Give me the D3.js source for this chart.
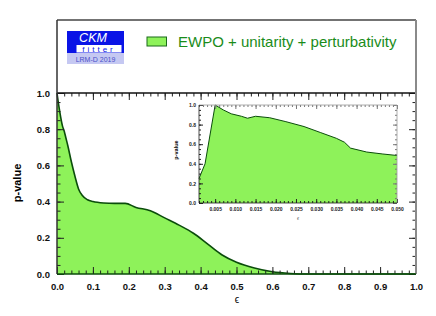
<!DOCTYPE html>
<html lang="en">
<head>
<meta charset="UTF-8">
<title>chart</title>
<style>
  body { margin: 0; background: #fff; }
  svg { display: block; font-family: "Liberation Sans", Arial, Helvetica, sans-serif; }
</style>
</head>
<body>
<script src="https://cdn.jsdelivr.net/npm/d3@7/dist/d3.min.js"></script>
<script>
// main curve: p-value against epsilon
const mainEps = [0, 0.005, 0.01, 0.015, 0.02, 0.025, 0.03, 0.04, 0.05, 0.06, 0.07, 0.085, 0.1, 0.13, 0.16, 0.19, 0.22, 0.26, 0.3, 0.34, 0.38, 0.42, 0.46, 0.5, 0.55, 0.6, 0.65, 0.7, 0.8, 0.9, 1.0];
const mainP = [1.0, 0.93, 0.87, 0.82, 0.79, 0.75, 0.71, 0.62, 0.54, 0.47, 0.435, 0.41, 0.40, 0.392, 0.39, 0.39, 0.368, 0.35, 0.31, 0.27, 0.225, 0.165, 0.105, 0.065, 0.033, 0.012, 0.003, 0, 0, 0, 0];

// inset: small epsilon region
const insetEps = [0.001, 0.0025, 0.005, 0.007, 0.009, 0.0115, 0.013, 0.015, 0.0185, 0.0225, 0.027, 0.031, 0.035, 0.037, 0.0385, 0.0425, 0.0465, 0.05];
const insetP = [0.25, 0.40, 1.0, 0.95, 0.91, 0.885, 0.865, 0.885, 0.87, 0.83, 0.78, 0.72, 0.66, 0.62, 0.56, 0.52, 0.50, 0.485];

// tick labels
const mainXTicks = [0, 0.1, 0.2, 0.3, 0.4, 0.5, 0.6, 0.7, 0.8, 0.9, 1.0];
const mainYTicks = [0, 0.2, 0.4, 0.6, 0.8, 1.0];
const insetXTicks = [0.005, 0.01, 0.015, 0.02, 0.025, 0.03, 0.035, 0.04, 0.045, 0.05];
const insetYTicks = [0, 0.2, 0.4, 0.6, 0.8, 1.0];

const legendLabel = 'EWPO + unitarity + perturbativity';

const width = 436, height = 316;
const fillCol = '#8ef25a', lineCol = '#0b4d0b';

const svg = d3.select('body').append('svg')
  .attr('width', width)
  .attr('height', height);

svg.append('rect').attr('width', width).attr('height', height).attr('fill', '#fff');

const x = d3.scaleLinear().domain([0, 1]).range([57, 416]);
const y = d3.scaleLinear().domain([0, 1]).range([274, 93]);

const mainData = mainEps.map((e, i) => [e, mainP[i]]);

const area = d3.area()
  .x(d => x(d[0]))
  .y0(y(0))
  .y1(d => y(d[1]))
  .curve(d3.curveMonotoneX);
const line = d3.line()
  .x(d => x(d[0]))
  .y(d => y(d[1]))
  .curve(d3.curveMonotoneX);

svg.append('path').datum(mainData).attr('d', area).attr('fill', fillCol);
svg.append('path').datum(mainData).attr('d', line)
  .attr('fill', 'none').attr('stroke', lineCol).attr('stroke-width', 1.6);

// helper to draw ticks with an axis generator, no domain line
function drawAxis(axis, tx, ty, col) {
  const g = svg.append('g').attr('transform', `translate(${tx},${ty})`).call(axis);
  g.select('.domain').remove();
  g.selectAll('line').attr('stroke', col || '#222');
  return g;
}

const minorX = d3.range(0, 1.001, 0.02);
const minorY = d3.range(0, 1.001, 0.05);

// bottom
drawAxis(d3.axisBottom(x).tickValues(minorX).tickSize(-3.5).tickFormat(''), 0, 274);
const bx = drawAxis(d3.axisBottom(x).tickValues(mainXTicks).tickSize(-7).tickPadding(9).tickFormat(d3.format('.1f')), 0, 274);
bx.selectAll('text').attr('font-size', 9.5).attr('font-weight', 'bold').attr('fill', '#111').attr('font-family', null);
// top
drawAxis(d3.axisTop(x).tickValues(minorX).tickSize(-3.5).tickFormat(''), 0, 93);
drawAxis(d3.axisTop(x).tickValues(mainXTicks).tickSize(-7).tickFormat(''), 0, 93);
// left
drawAxis(d3.axisLeft(y).tickValues(minorY).tickSize(-3.5).tickFormat(''), 57, 0);
const ly = drawAxis(d3.axisLeft(y).tickValues(mainYTicks).tickSize(-7).tickPadding(7).tickFormat(d3.format('.1f')), 57, 0);
ly.selectAll('text').attr('font-size', 9.5).attr('font-weight', 'bold').attr('fill', '#111').attr('font-family', null);
// right
drawAxis(d3.axisRight(y).tickValues(minorY).tickSize(-3.5).tickFormat(''), 416, 0);
drawAxis(d3.axisRight(y).tickValues(mainYTicks).tickSize(-7).tickFormat(''), 416, 0);

// frame
svg.append('line').attr('x1', 57).attr('x2', 416).attr('y1', 20).attr('y2', 20).attr('stroke', '#444').attr('stroke-width', 1.5);
svg.append('line').attr('x1', 57).attr('x2', 416).attr('y1', 93).attr('y2', 93).attr('stroke', '#111').attr('stroke-width', 1.5);
svg.append('line').attr('x1', 57).attr('x2', 57).attr('y1', 20).attr('y2', 274).attr('stroke', '#333').attr('stroke-width', 1.5);
svg.append('line').attr('x1', 416).attr('x2', 416).attr('y1', 20).attr('y2', 274).attr('stroke', '#8a8a8a').attr('stroke-width', 2);
svg.append('line').attr('x1', 57).attr('x2', 416).attr('y1', 274).attr('y2', 274).attr('stroke', lineCol).attr('stroke-width', 1.6);

// axis titles
svg.append('text').attr('transform', 'translate(21,183) rotate(-90)')
  .attr('text-anchor', 'middle').attr('font-size', 11).attr('font-weight', 'bold').text('p-value');
svg.append('text').attr('x', 237).attr('y', 303)
  .attr('text-anchor', 'middle').attr('font-size', 10).text('ϵ');

// logo
const logo = svg.append('g');
logo.append('rect').attr('x', 67).attr('y', 31).attr('width', 57).attr('height', 22).attr('fill', '#0a14e6');
logo.append('rect').attr('x', 76.5).attr('y', 45).attr('width', 45).attr('height', 7.5).attr('fill', '#fff');
logo.append('rect').attr('x', 67).attr('y', 53).attr('width', 57).attr('height', 11).attr('fill', '#c5c8f2');
logo.append('text').attr('x', 93).attr('y', 42).attr('text-anchor', 'middle')
  .attr('font-size', 12.5).attr('font-style', 'italic').attr('fill', '#fff').text('CKM');
logo.append('text').attr('x', 99).attr('y', 52.3).attr('text-anchor', 'middle')
  .attr('font-size', 8).attr('letter-spacing', 3).attr('fill', '#0a14e6').text('fitter');
logo.append('text').attr('x', 95.5).attr('y', 61.5).attr('text-anchor', 'middle')
  .attr('font-size', 7).attr('fill', '#4a50c8').text('LRM-D 2019');

// legend entry
svg.append('rect').attr('x', 147).attr('y', 37).attr('width', 19.5).attr('height', 9)
  .attr('fill', fillCol).attr('stroke', '#1a6a1a').attr('stroke-width', 1);
svg.append('text').attr('x', 178).attr('y', 47).attr('font-size', 15).attr('fill', '#1a8c1a').text(legendLabel);

// inset
const ix = d3.scaleLinear().domain([0.001, 0.05]).range([199, 397]);
const iy = d3.scaleLinear().domain([0, 1]).range([203, 105]);
const insetData = insetEps.map((e, i) => [e, insetP[i]]);

svg.append('rect').attr('x', 199).attr('y', 105).attr('width', 198).attr('height', 98).attr('fill', '#fff');
svg.append('path').datum(insetData)
  .attr('d', d3.area().x(d => ix(d[0])).y0(iy(0)).y1(d => iy(d[1])))
  .attr('fill', fillCol);
svg.append('path').datum(insetData)
  .attr('d', d3.line().x(d => ix(d[0])).y(d => iy(d[1])))
  .attr('fill', 'none').attr('stroke', lineCol).attr('stroke-width', 1);

const iMinorX = d3.range(0.001, 0.0501, 0.001);
const iMinorY = d3.range(0, 1.001, 0.05);
drawAxis(d3.axisBottom(ix).tickValues(iMinorX).tickSize(-2).tickFormat(''), 0, 203);
const ibx = drawAxis(d3.axisBottom(ix).tickValues(insetXTicks).tickSize(-4).tickPadding(4).tickFormat(d3.format('.3f')), 0, 203);
ibx.selectAll('text').attr('font-size', 5).attr('font-weight', 'bold').attr('fill', '#222').attr('font-family', null);
drawAxis(d3.axisTop(ix).tickValues(iMinorX).tickSize(-2).tickFormat(''), 0, 105, '#777');
drawAxis(d3.axisTop(ix).tickValues(insetXTicks).tickSize(-4).tickFormat(''), 0, 105, '#777');
drawAxis(d3.axisLeft(iy).tickValues(iMinorY).tickSize(-2).tickFormat(''), 199, 0);
const ily = drawAxis(d3.axisLeft(iy).tickValues(insetYTicks).tickSize(-4).tickPadding(3).tickFormat(d3.format('.1f')), 199, 0);
ily.selectAll('text').attr('font-size', 5).attr('font-weight', 'bold').attr('fill', '#222').attr('font-family', null);
drawAxis(d3.axisRight(iy).tickValues(iMinorY).tickSize(-2).tickFormat(''), 397, 0, '#777');
drawAxis(d3.axisRight(iy).tickValues(insetYTicks).tickSize(-4).tickFormat(''), 397, 0, '#777');

svg.append('line').attr('x1', 199).attr('x2', 397).attr('y1', 105).attr('y2', 105).attr('stroke', '#999').attr('stroke-width', 0.8);
svg.append('line').attr('x1', 397).attr('x2', 397).attr('y1', 105).attr('y2', 203).attr('stroke', '#999').attr('stroke-width', 0.8);
svg.append('line').attr('x1', 199).attr('x2', 199).attr('y1', 105).attr('y2', 203).attr('stroke', '#222').attr('stroke-width', 0.8);
svg.append('line').attr('x1', 199).attr('x2', 397).attr('y1', 203).attr('y2', 203).attr('stroke', '#222').attr('stroke-width', 0.8);

svg.append('text').attr('transform', 'translate(178,150) rotate(-90)')
  .attr('text-anchor', 'middle').attr('font-size', 5.5).attr('font-weight', 'bold').text('p-value');
svg.append('text').attr('x', 298).attr('y', 220)
  .attr('text-anchor', 'middle').attr('font-size', 5).attr('fill', '#666').text('ϵ');
</script>
</body>
</html>
